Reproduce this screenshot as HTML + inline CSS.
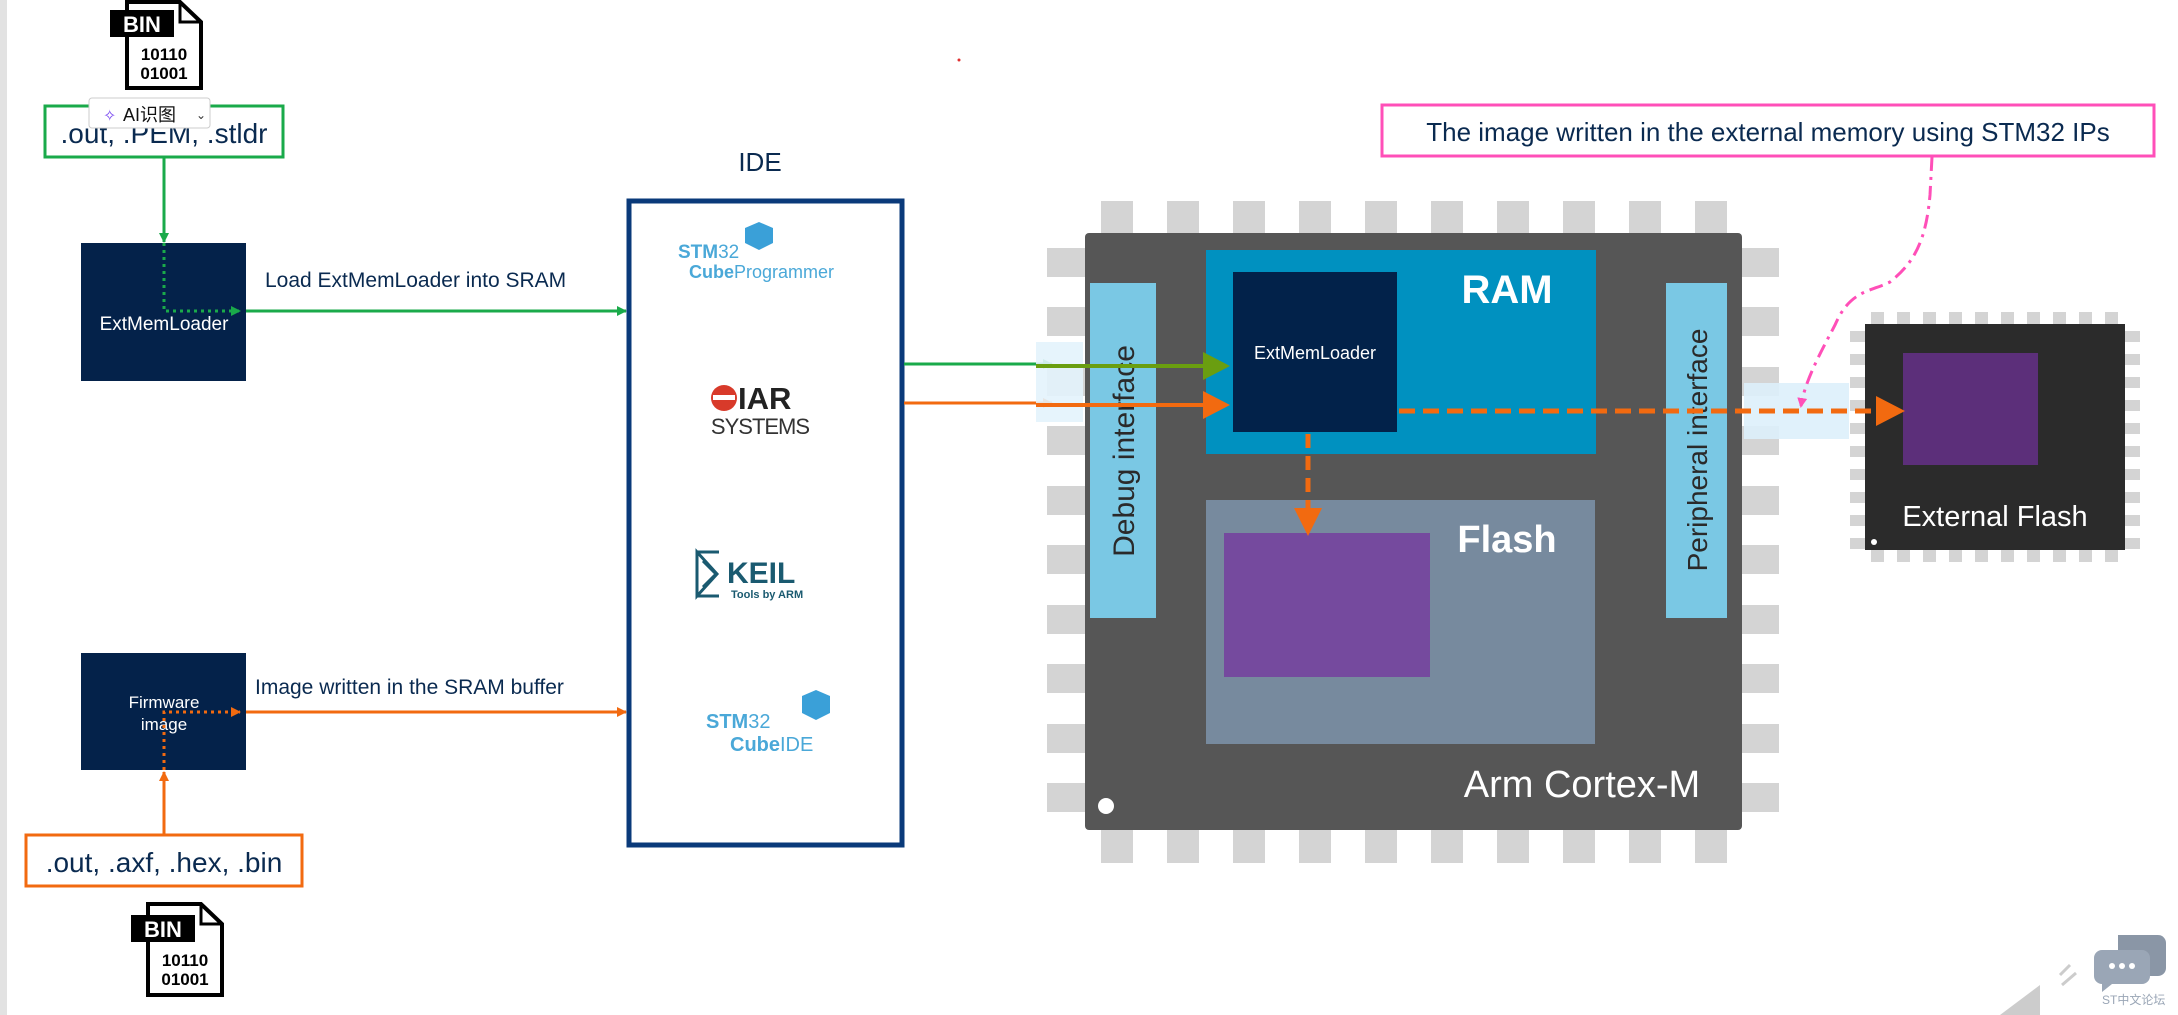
<!DOCTYPE html>
<html><head><meta charset="utf-8"><style>
html,body{margin:0;padding:0;background:#fff;width:2178px;height:1015px;overflow:hidden}
svg{display:block}
text{font-family:"Liberation Sans","Noto Sans CJK SC",sans-serif}
</style></head><body>
<svg width="2178" height="1015" viewBox="0 0 2178 1015" xmlns="http://www.w3.org/2000/svg">
<defs>
<marker id="ag" markerWidth="10" markerHeight="10" refX="9" refY="5" orient="auto" markerUnits="userSpaceOnUse"><path d="M0,0 L10,5 L0,10 z" fill="#1aaa4a"/></marker>
<marker id="ao" markerWidth="10" markerHeight="10" refX="9" refY="5" orient="auto" markerUnits="userSpaceOnUse"><path d="M0,0 L10,5 L0,10 z" fill="#f26a10"/></marker>
<marker id="ap" markerWidth="10" markerHeight="10" refX="8" refY="5" orient="auto" markerUnits="userSpaceOnUse"><path d="M0,0 L10,5 L0,10 z" fill="#ff4fb8"/></marker>
</defs>
<rect x="0" y="0" width="7" height="1015" fill="#e2e2e2"/>
<circle cx="959" cy="60" r="1.5" fill="#e03030"/>

<!-- BIN icon top -->
<g>
<path d="M127,2 L180,2 L201,22 L201,88 L127,88 Z" fill="#fff" stroke="#000" stroke-width="4"/>
<path d="M180,2 L180,22 L201,22" fill="none" stroke="#000" stroke-width="3"/>
<rect x="110" y="10" width="64" height="27" fill="#000"/>
<text x="142" y="32" font-size="22" font-weight="bold" fill="#fff" text-anchor="middle">BIN</text>
<text x="164" y="60" font-size="17" font-weight="bold" fill="#000" text-anchor="middle">10110</text>
<text x="164" y="79" font-size="17" font-weight="bold" fill="#000" text-anchor="middle">01001</text>
</g>

<!-- green box -->
<rect x="45" y="106" width="238" height="51" fill="#fff" stroke="#1aaa4a" stroke-width="3"/>
<text x="164" y="143" font-size="28" fill="#0a2a50" text-anchor="middle">.out, .PEM, .stldr</text>
<!-- popup -->
<rect x="89" y="98" width="121" height="30" rx="3" fill="#fff" stroke="#ccc" stroke-width="1"/>
<text x="103" y="121" font-size="16" fill="#7a4af0">✧</text>
<text x="123" y="121" font-size="18" fill="#111">AI识图</text>
<text x="196" y="119" font-size="12" fill="#333">⌄</text>

<!-- green arrow down -->
<line x1="164" y1="157" x2="164" y2="242" stroke="#1aaa4a" stroke-width="3" marker-end="url(#ag)"/>
<!-- ExtMemLoader box -->
<rect x="81" y="243" width="165" height="138" fill="#04224a"/>
<text x="164" y="330" font-size="19" fill="#fff" text-anchor="middle">ExtMemLoader</text>
<path d="M164,243 L164,311 L240,311" fill="none" stroke="#1aaa4a" stroke-width="3" stroke-dasharray="3,4" marker-end="url(#ag)"/>
<line x1="246" y1="311" x2="626" y2="311" stroke="#1aaa4a" stroke-width="3" marker-end="url(#ag)"/>
<text x="265" y="287" font-size="21" fill="#0a2a50">Load ExtMemLoader into SRAM</text>

<!-- Firmware box -->
<rect x="81" y="653" width="165" height="117" fill="#04224a"/>
<text x="164" y="708" font-size="17" fill="#fff" text-anchor="middle">Firmware</text>
<text x="164" y="730" font-size="17" fill="#fff" text-anchor="middle">image</text>
<path d="M164,770 L164,712 L240,712" fill="none" stroke="#f26a10" stroke-width="3" stroke-dasharray="3,4" marker-end="url(#ao)"/>
<line x1="246" y1="712" x2="626" y2="712" stroke="#f26a10" stroke-width="3" marker-end="url(#ao)"/>
<text x="255" y="694" font-size="21" fill="#0a2a50">Image written in the SRAM buffer</text>
<line x1="164" y1="835" x2="164" y2="772" stroke="#f26a10" stroke-width="3" marker-end="url(#ao)"/>
<rect x="26" y="835" width="276" height="51" fill="#fff" stroke="#f26a10" stroke-width="3"/>
<text x="164" y="872" font-size="28" fill="#0a2a50" text-anchor="middle">.out, .axf, .hex, .bin</text>

<!-- BIN icon bottom -->
<g transform="translate(21,902)">
<path d="M127,2 L180,2 L201,22 L201,93 L127,93 Z" fill="#fff" stroke="#000" stroke-width="4"/>
<path d="M180,2 L180,22 L201,22" fill="none" stroke="#000" stroke-width="3"/>
<rect x="110" y="13" width="64" height="27" fill="#000"/>
<text x="142" y="35" font-size="22" font-weight="bold" fill="#fff" text-anchor="middle">BIN</text>
<text x="164" y="64" font-size="17" font-weight="bold" fill="#000" text-anchor="middle">10110</text>
<text x="164" y="83" font-size="17" font-weight="bold" fill="#000" text-anchor="middle">01001</text>
</g>

<!-- IDE -->
<text x="760" y="171" font-size="26" fill="#0a2a50" text-anchor="middle">IDE</text>
<rect x="629" y="201" width="273" height="644" fill="#fff" stroke="#0a3a7a" stroke-width="5"/>
<!-- CubeProgrammer -->
<text x="678" y="258" font-size="19" font-weight="bold" fill="#4aa8d8">STM<tspan font-weight="normal">32</tspan></text>
<path d="M745,228 l14,-6 l14,6 l0,15 l-14,7 l-14,-7 z" fill="#3aa0d8"/>
<text x="689" y="278" font-size="18" fill="#4aa8d8"><tspan font-weight="bold">Cube</tspan>Programmer</text>
<!-- IAR -->
<circle cx="724" cy="398" r="13" fill="#d83a2a"/>
<rect x="713" y="395" width="22" height="5" fill="#fff"/>
<text x="738" y="409" font-size="31" font-weight="bold" fill="#222">IAR</text>
<text x="760" y="434" font-size="22" fill="#333" text-anchor="middle" letter-spacing="-1">SYSTEMS</text>
<!-- KEIL -->
<path d="M697,552 l0,44 l20,-22 z M697,552 l22,0 M697,596 l22,0" fill="none" stroke="#1a5a70" stroke-width="3"/>
<path d="M703,561 l13,13 l-13,13" fill="none" stroke="#1a5a70" stroke-width="3"/>
<text x="727" y="583" font-size="30" font-weight="bold" fill="#1a5a70">KEIL</text>
<text x="731" y="598" font-size="11" font-weight="bold" fill="#1a5a70">Tools by ARM</text>
<!-- CubeIDE -->
<text x="706" y="728" font-size="20" font-weight="bold" fill="#4aa8d8">STM<tspan font-weight="normal">32</tspan></text>
<path d="M802,696 l14,-6 l14,6 l0,17 l-14,7 l-14,-7 z" fill="#3aa0d8"/>
<text x="730" y="751" font-size="20" fill="#4aa8d8"><tspan font-weight="bold">Cube</tspan>IDE</text>

<!-- lines from IDE to chip -->
<line x1="904" y1="364" x2="1052" y2="364" stroke="#1aaa4a" stroke-width="3" marker-end="url(#ag)"/>
<line x1="904" y1="403" x2="1052" y2="403" stroke="#f26a10" stroke-width="3" marker-end="url(#ao)"/>

<!-- Chip pins -->
<g fill="#d4d4d4">
<rect x="1101" y="201" width="32" height="32"/><rect x="1167" y="201" width="32" height="32"/><rect x="1233" y="201" width="32" height="32"/><rect x="1299" y="201" width="32" height="32"/><rect x="1365" y="201" width="32" height="32"/><rect x="1431" y="201" width="32" height="32"/><rect x="1497" y="201" width="32" height="32"/><rect x="1563" y="201" width="32" height="32"/><rect x="1629" y="201" width="32" height="32"/><rect x="1695" y="201" width="32" height="32"/>
<rect x="1101" y="830" width="32" height="33"/><rect x="1167" y="830" width="32" height="33"/><rect x="1233" y="830" width="32" height="33"/><rect x="1299" y="830" width="32" height="33"/><rect x="1365" y="830" width="32" height="33"/><rect x="1431" y="830" width="32" height="33"/><rect x="1497" y="830" width="32" height="33"/><rect x="1563" y="830" width="32" height="33"/><rect x="1629" y="830" width="32" height="33"/><rect x="1695" y="830" width="32" height="33"/>
<rect x="1047" y="248" width="38" height="29"/><rect x="1047" y="307" width="38" height="29"/><rect x="1047" y="367" width="38" height="29"/><rect x="1047" y="426" width="38" height="29"/><rect x="1047" y="486" width="38" height="29"/><rect x="1047" y="545" width="38" height="29"/><rect x="1047" y="605" width="38" height="29"/><rect x="1047" y="664" width="38" height="29"/><rect x="1047" y="724" width="38" height="29"/><rect x="1047" y="783" width="38" height="29"/>
<rect x="1742" y="248" width="37" height="29"/><rect x="1742" y="307" width="37" height="29"/><rect x="1742" y="367" width="37" height="29"/><rect x="1742" y="426" width="37" height="29"/><rect x="1742" y="486" width="37" height="29"/><rect x="1742" y="545" width="37" height="29"/><rect x="1742" y="605" width="37" height="29"/><rect x="1742" y="664" width="37" height="29"/><rect x="1742" y="724" width="37" height="29"/><rect x="1742" y="783" width="37" height="29"/>
</g>
<rect x="1036" y="342" width="47" height="80" fill="#e3f3fc" opacity="0.9"/>
<rect x="1085" y="233" width="657" height="597" rx="4" fill="#565656"/>
<rect x="1090" y="283" width="66" height="335" fill="#7ac8e4"/>
<text transform="translate(1134,451) rotate(-90)" font-size="30" fill="#2a2a2a" text-anchor="middle">Debug interface</text>
<rect x="1666" y="283" width="61" height="335" fill="#7ac8e4"/>
<text transform="translate(1707,450) rotate(-90)" font-size="28" fill="#2a2a2a" text-anchor="middle">Peripheral interface</text>
<rect x="1206" y="250" width="390" height="204" fill="#0091c0"/>
<text x="1507" y="303" font-size="40" font-weight="bold" fill="#fff" text-anchor="middle">RAM</text>
<rect x="1233" y="272" width="164" height="160" fill="#02224a"/>
<text x="1315" y="359" font-size="18" fill="#fff" text-anchor="middle">ExtMemLoader</text>
<rect x="1206" y="500" width="389" height="244" fill="#778a9e"/>
<text x="1507" y="552" font-size="38" font-weight="bold" fill="#fff" text-anchor="middle">Flash</text>
<rect x="1224" y="533" width="206" height="144" fill="#754a9e"/>
<text x="1582" y="797" font-size="38" fill="#fff" text-anchor="middle">Arm Cortex-M</text>
<circle cx="1106" cy="806" r="8" fill="#fff"/>

<!-- arrows inside chip -->
<line x1="1036" y1="366" x2="1205" y2="366" stroke="#6a9e10" stroke-width="4"/>
<path d="M1203,352 L1230,366 L1203,380 z" fill="#6a9e10"/>
<line x1="1036" y1="405" x2="1205" y2="405" stroke="#f26a10" stroke-width="4"/>
<path d="M1203,391 L1230,405 L1203,419 z" fill="#f26a10"/>
<line x1="1308" y1="434" x2="1308" y2="512" stroke="#f26a10" stroke-width="5" stroke-dasharray="14,8"/>
<path d="M1294,508 L1308,536 L1322,508 z" fill="#f26a10"/>

<!-- right bridge -->
<rect x="1744" y="383" width="105" height="56" fill="#ddf0fb" opacity="0.9"/>

<!-- External flash -->
<g fill="#d4d4d4">
<rect x="1871" y="312" width="13" height="12"/><rect x="1897" y="312" width="13" height="12"/><rect x="1923" y="312" width="13" height="12"/><rect x="1949" y="312" width="13" height="12"/><rect x="1975" y="312" width="13" height="12"/><rect x="2001" y="312" width="13" height="12"/><rect x="2027" y="312" width="13" height="12"/><rect x="2053" y="312" width="13" height="12"/><rect x="2079" y="312" width="13" height="12"/><rect x="2105" y="312" width="13" height="12"/>
<rect x="1871" y="550" width="13" height="12"/><rect x="1897" y="550" width="13" height="12"/><rect x="1923" y="550" width="13" height="12"/><rect x="1949" y="550" width="13" height="12"/><rect x="1975" y="550" width="13" height="12"/><rect x="2001" y="550" width="13" height="12"/><rect x="2027" y="550" width="13" height="12"/><rect x="2053" y="550" width="13" height="12"/><rect x="2079" y="550" width="13" height="12"/><rect x="2105" y="550" width="13" height="12"/>
<rect x="1850" y="331" width="15" height="11"/><rect x="1850" y="354" width="15" height="11"/><rect x="1850" y="377" width="15" height="11"/><rect x="1850" y="400" width="15" height="11"/><rect x="1850" y="423" width="15" height="11"/><rect x="1850" y="446" width="15" height="11"/><rect x="1850" y="469" width="15" height="11"/><rect x="1850" y="492" width="15" height="11"/><rect x="1850" y="515" width="15" height="11"/><rect x="1850" y="538" width="15" height="11"/>
<rect x="2125" y="331" width="15" height="11"/><rect x="2125" y="354" width="15" height="11"/><rect x="2125" y="377" width="15" height="11"/><rect x="2125" y="400" width="15" height="11"/><rect x="2125" y="423" width="15" height="11"/><rect x="2125" y="446" width="15" height="11"/><rect x="2125" y="469" width="15" height="11"/><rect x="2125" y="492" width="15" height="11"/><rect x="2125" y="515" width="15" height="11"/><rect x="2125" y="538" width="15" height="11"/>
</g>
<rect x="1865" y="324" width="260" height="226" fill="#2b2b2b"/>
<rect x="1903" y="353" width="135" height="112" fill="#5c2f7a"/>
<text x="1995" y="526" font-size="29" fill="#fff" text-anchor="middle">External Flash</text>
<circle cx="1874" cy="542" r="3" fill="#fff"/>

<!-- dashed orange to external flash -->
<line x1="1399" y1="411" x2="1880" y2="411" stroke="#f26a10" stroke-width="5" stroke-dasharray="16,8"/>
<path d="M1876,396 L1905,411 L1876,426 z" fill="#f26a10"/>

<!-- pink callout -->
<rect x="1382" y="105" width="772" height="51" fill="#fff" stroke="#ff4fb8" stroke-width="3"/>
<text x="1768" y="141" font-size="26" fill="#0a2a50" text-anchor="middle">The image written in the external memory using STM32 IPs</text>
<path d="M1932,157 L1930,195 C1926,240 1915,262 1890,282 C1870,292 1850,290 1835,325 C1822,350 1805,380 1801,406" fill="none" stroke="#ff4fb8" stroke-width="3" stroke-dasharray="14,6,3,6" marker-end="url(#ap)"/>

<!-- bottom-right watermark -->
<path d="M2000,1015 L2040,985 L2040,1015 z" fill="#ccc"/>
<path d="M2118,935 h40 a8,8 0 0 1 8,8 v25 a8,8 0 0 1 -8,8 h-40 z" fill="#8a96a6"/>
<path d="M2102,950 h40 a8,8 0 0 1 8,8 v18 a8,8 0 0 1 -8,8 h-30 l-10,8 v-8 a8,8 0 0 1 -8,-8 v-18 a8,8 0 0 1 8,-8 z" fill="#9aa6b6"/>
<circle cx="2112" cy="966" r="3" fill="#fff"/><circle cx="2122" cy="966" r="3" fill="#fff"/><circle cx="2132" cy="966" r="3" fill="#fff"/>
<text x="2102" y="1004" font-size="12" fill="#9aa6b6">ST中文论坛</text>
<path d="M2060,975 l10,-10 M2062,985 l14,-12" stroke="#ccc" stroke-width="3"/>
</svg>
</body></html>
